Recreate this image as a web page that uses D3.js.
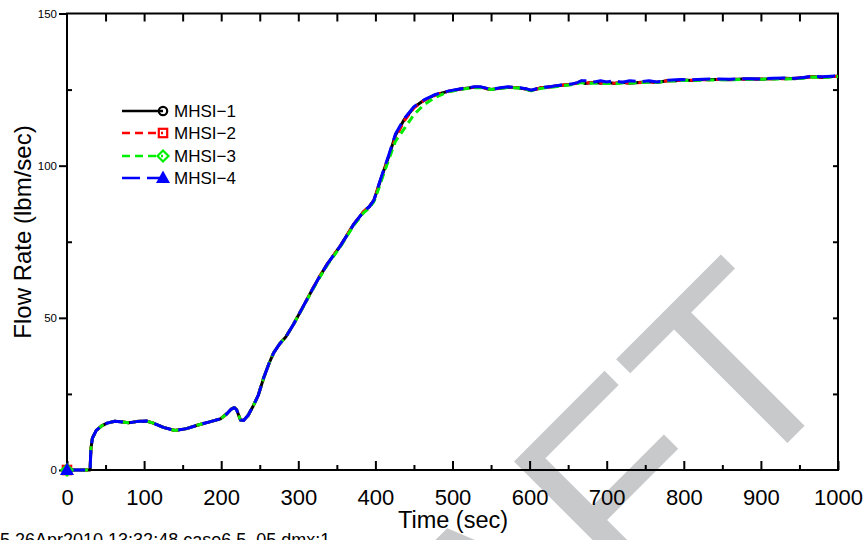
<!DOCTYPE html>
<html>
<head>
<meta charset="utf-8">
<script src="https://cdn.jsdelivr.net/npm/d3@7"></script>
<style>
  html, body { margin: 0; padding: 0; background: #fff; }
  svg { display: block; font-family: "Liberation Sans", Arial, Helvetica, sans-serif; }
</style>
</head>
<body>
<svg id="chart" width="868" height="540"></svg>
<script>
// ---------------- DATA ----------------
const xTicks = [0, 100, 200, 300, 400, 500, 600, 700, 800, 900, 1000];
const yTicks = [0, 50, 100, 150];
const seriesNames = ["MHSI\u22121", "MHSI\u22122", "MHSI\u22123", "MHSI\u22124"];
const footerText = "5 26Apr2010 13:32:48 case6.5_05.dmx:1";
const watermarkText = "DRAFT";

const time = [0, 10, 20, 30, 31, 33, 38, 45, 52, 62, 72, 80, 90, 103, 112, 125, 140, 155, 170, 185,
  199, 207, 213, 217, 220, 225, 229, 235, 242, 248, 255, 262, 268, 276, 284, 294, 305, 318, 327, 338,
  355, 372, 385, 392, 398, 405, 411, 418, 426, 437, 450, 463, 478, 494, 511, 528, 537, 545, 550, 560,
  572, 585, 595, 602, 615, 628, 641, 654, 662, 667, 672, 684, 692, 700, 710, 720, 730, 745, 755, 765,
  780, 790, 797, 810, 825, 845, 860, 875, 888, 900, 915, 932, 945, 955, 966, 980, 996, 1000];

const mhsi1 = [0, 0, 0, 0, 7, 10.5, 13, 14.5, 15.4, 16.0, 15.8, 15.5, 15.9, 16.1, 15.4, 14.0, 13.0, 13.6, 14.8, 15.8,
  16.8, 18.4, 20.0, 20.5, 19.8, 16.4, 16.3, 18.0, 21.3, 24.5, 30.2, 35.0, 38.5, 41.5, 43.8, 48.0, 53.1, 59.2, 63.3, 67.8,
  73.8, 80.8, 85.0, 86.5, 88.6, 94.0, 98.5, 103.6, 110.0, 115.0, 119.2, 121.5, 123.3, 124.4, 125.2, 125.8, 125.8, 125.3, 125.0, 125.4,
  125.8, 125.6, 125.2, 124.7, 125.6, 125.9, 126.4, 126.7, 127.2, 127.8, 127.0, 127.4, 127.1, 127.4, 127.0, 127.4, 127.1, 127.4, 127.6, 127.3,
  128.0, 127.9, 128.2, 128.0, 128.3, 128.3, 128.2, 128.5, 128.5, 128.4, 128.6, 128.7, 128.6, 128.9, 129.3, 129.0, 129.4, 129.4];

const mhsi2 = [0, 0, 0, 0, 7, 10.5, 13, 14.5, 15.4, 16.0, 15.8, 15.5, 15.9, 16.1, 15.4, 14.0, 13.0, 13.6, 14.8, 15.8,
  16.8, 18.4, 20.0, 20.5, 19.8, 16.4, 16.3, 18.0, 21.3, 24.5, 30.2, 35.0, 38.5, 41.5, 43.8, 48.0, 53.1, 59.2, 63.3, 67.8,
  73.8, 80.8, 85.0, 86.5, 88.6, 93.8, 98.2, 103.2, 109.0, 114.6, 119.0, 121.4, 123.2, 124.4, 125.2, 125.8, 125.8, 125.3, 125.0, 125.4,
  125.8, 125.6, 125.2, 124.7, 125.6, 125.9, 126.4, 126.7, 127.2, 127.6, 127.1, 127.3, 127.2, 127.3, 127.1, 127.3, 127.2, 127.3, 127.5, 127.4,
  127.9, 128.0, 128.1, 128.1, 128.2, 128.3, 128.3, 128.4, 128.5, 128.5, 128.6, 128.6, 128.7, 128.9, 129.2, 129.1, 129.3, 129.4];

const mhsi3 = [0, 0, 0, 0, 7, 10.5, 13, 14.5, 15.4, 16.0, 15.8, 15.5, 15.9, 16.1, 15.4, 14.0, 13.0, 13.6, 14.8, 15.8,
  16.8, 18.4, 20.0, 20.5, 19.8, 16.4, 16.3, 18.0, 21.3, 24.5, 30.2, 35.0, 38.5, 41.5, 43.8, 48.0, 53.0, 59.0, 63.0, 67.5,
  73.5, 80.4, 84.6, 86.1, 88.2, 93.0, 97.5, 102.5, 108.0, 112.0, 116.8, 120.0, 122.5, 124.2, 125.1, 125.6, 125.7, 125.3, 125.0, 125.3,
  125.7, 125.5, 125.1, 124.6, 125.4, 125.8, 126.2, 126.6, 127.0, 127.3, 127.0, 127.1, 127.0, 127.1, 126.9, 127.2, 127.1, 127.3, 127.4, 127.3,
  127.8, 127.8, 128.0, 128.0, 128.1, 128.2, 128.2, 128.3, 128.4, 128.4, 128.5, 128.5, 128.6, 128.7, 129.1, 129.0, 129.2, 129.3];

const mhsi4 = [0, 0, 0, 0, 7, 10.5, 13, 14.5, 15.4, 16.0, 15.8, 15.5, 15.9, 16.1, 15.4, 14.0, 13.0, 13.6, 14.8, 15.8,
  16.8, 18.4, 20.0, 20.5, 19.8, 16.4, 16.3, 18.0, 21.3, 24.5, 30.2, 35.0, 38.5, 41.5, 43.8, 48.0, 53.1, 59.2, 63.3, 67.8,
  73.8, 80.8, 85.0, 86.5, 88.6, 94.2, 98.8, 104.0, 110.4, 115.3, 119.4, 121.6, 123.4, 124.5, 125.3, 125.9, 125.9, 125.4, 125.1, 125.5,
  125.9, 125.7, 125.3, 124.8, 125.7, 126.0, 126.5, 126.8, 127.3, 127.9, 127.9, 127.5, 127.9, 127.5, 127.9, 127.4, 127.9, 127.6, 127.9, 127.5,
  128.1, 128.2, 128.3, 128.2, 128.4, 128.5, 128.4, 128.6, 128.6, 128.5, 128.7, 128.8, 128.7, 129.0, 129.4, 129.2, 129.5, 129.5];

const seriesValues = [mhsi1, mhsi2, mhsi3, mhsi4];
const seriesColors = ["#000000", "#ff0000", "#00ee00", "#0000ff"];
const seriesDash = [null, "8,5", "8,5", "18,7"];
const seriesMarkers = ["circle", "square", "diamond", "triangle"];

// ---------------- LAYOUT ----------------
const svg = d3.select("#chart");
const pLeft = 67, pRight = 838, pTop = 13.5, pBottom = 470;
const x = d3.scaleLinear().domain([0, 1000]).range([pLeft, pRight]);
const y = d3.scaleLinear().domain([0, 150]).range([pBottom, pTop]);
const FONT = "Liberation Sans, Arial, sans-serif";

// Watermark (behind everything)
svg.append("text")
  .attr("transform", "translate(852.6,377.7) rotate(-45)")
  .attr("text-anchor", "end")
  .attr("font-size", 262)
  .attr("font-family", FONT)
  .attr("fill", "#c8c9cb")
  .text(watermarkText);

// Frame
svg.append("rect")
  .attr("x", pLeft).attr("y", pTop)
  .attr("width", pRight - pLeft).attr("height", pBottom - pTop)
  .attr("fill", "none").attr("stroke", "#000").attr("stroke-width", 2);

function styleAxis(g) {
  g.select(".domain").remove();
  g.selectAll("line").attr("stroke", "#000").attr("stroke-width", 2);
  g.selectAll("text").attr("font-family", FONT).attr("fill", "#000");
}

// Bottom axis
const xMinor = d3.range(50, 1000, 100);
const bottomAxis = svg.append("g").attr("transform", `translate(0,${pBottom})`)
  .call(d3.axisBottom(x).tickValues(xTicks).tickSizeInner(-9).tickSizeOuter(0).tickPadding(19).tickFormat(d3.format("d")));
styleAxis(bottomAxis);
bottomAxis.selectAll("text").attr("font-size", 22);
const bottomMinor = svg.append("g").attr("transform", `translate(0,${pBottom})`)
  .call(d3.axisBottom(x).tickValues(xMinor).tickSizeInner(-5).tickSizeOuter(0).tickFormat(""));
styleAxis(bottomMinor);

// Top axis
const topAxis = svg.append("g").attr("transform", `translate(0,${pTop})`)
  .call(d3.axisTop(x).tickValues(d3.range(50, 1000, 50)).tickSizeInner(-8).tickSizeOuter(0).tickFormat(""));
styleAxis(topAxis);

// Left axis
const leftAxis = svg.append("g").attr("transform", `translate(${pLeft},0)`)
  .call(d3.axisLeft(y).tickValues(yTicks).tickSizeInner(8).tickSizeOuter(0).tickPadding(2).tickFormat(d3.format("d")));
styleAxis(leftAxis);
leftAxis.selectAll("text").attr("font-size", 11.5);
const leftMinor = svg.append("g").attr("transform", `translate(${pLeft},0)`)
  .call(d3.axisLeft(y).tickValues([25, 75, 125]).tickSizeInner(-5).tickSizeOuter(0).tickFormat(""));
styleAxis(leftMinor);

// Right axis
const rightAxis = svg.append("g").attr("transform", `translate(${pRight},0)`)
  .call(d3.axisRight(y).tickValues([25, 50, 75, 100, 125]).tickSizeInner(-5).tickSizeOuter(0).tickFormat(""));
styleAxis(rightAxis);

// Axis titles
svg.append("text")
  .attr("x", 453).attr("y", 528)
  .attr("text-anchor", "middle").attr("font-size", 23.5)
  .text("Time (sec)");
svg.append("text")
  .attr("transform", "translate(31,232) rotate(-90)")
  .attr("text-anchor", "middle").attr("font-size", 24)
  .text("Flow Rate (lbm/sec)");

// Footer
svg.append("text")
  .attr("x", 0).attr("y", 546)
  .attr("font-size", 18)
  .text(footerText);

// Lines
const line = d3.line().x((d, i) => x(time[i])).y(d => y(d));
seriesValues.forEach((vals, k) => {
  svg.append("path")
    .datum(vals)
    .attr("d", line)
    .attr("fill", "none")
    .attr("stroke", seriesColors[k])
    .attr("stroke-width", 3)
    .attr("stroke-linejoin", "round")
    .attr("stroke-dasharray", seriesDash[k]);
});

// Markers
function drawMarker(g, type, cx, cy, color) {
  if (type === "circle") {
    g.append("circle").attr("cx", cx).attr("cy", cy).attr("r", 4.2)
      .attr("fill", "none").attr("stroke", color).attr("stroke-width", 2.2);
  } else if (type === "square") {
    g.append("rect").attr("x", cx - 4.2).attr("y", cy - 4.2).attr("width", 8.4).attr("height", 8.4)
      .attr("fill", "none").attr("stroke", color).attr("stroke-width", 2.2);
  } else if (type === "diamond") {
    g.append("path").attr("d", `M${cx},${cy - 5.5}L${cx + 5.5},${cy}L${cx},${cy + 5.5}L${cx - 5.5},${cy}Z`)
      .attr("fill", "none").attr("stroke", color).attr("stroke-width", 2.2);
  } else {
    g.append("path").attr("d", `M${cx},${cy - 7.5}L${cx + 7},${cy + 5}L${cx - 7},${cy + 5}Z`)
      .attr("fill", color);
  }
}
const markerG = svg.append("g");
seriesValues.forEach((vals, k) => {
  drawMarker(markerG, seriesMarkers[k], x(time[0]), y(vals[0]), seriesColors[k]);
});

// Legend
const legendRows = [111, 133, 156, 178];
const legend = svg.append("g");
seriesNames.forEach((name, k) => {
  const ly = legendRows[k];
  legend.append("line")
    .attr("x1", 122).attr("x2", 163).attr("y1", ly).attr("y2", ly)
    .attr("stroke", seriesColors[k]).attr("stroke-width", 2.5)
    .attr("stroke-dasharray", seriesDash[k]);
  drawMarker(legend, seriesMarkers[k], 163, ly, seriesColors[k]);
  legend.append("text")
    .attr("x", 174).attr("y", ly + 6)
    .attr("font-size", 17)
    .text(name);
});
</script>
</body>
</html>
